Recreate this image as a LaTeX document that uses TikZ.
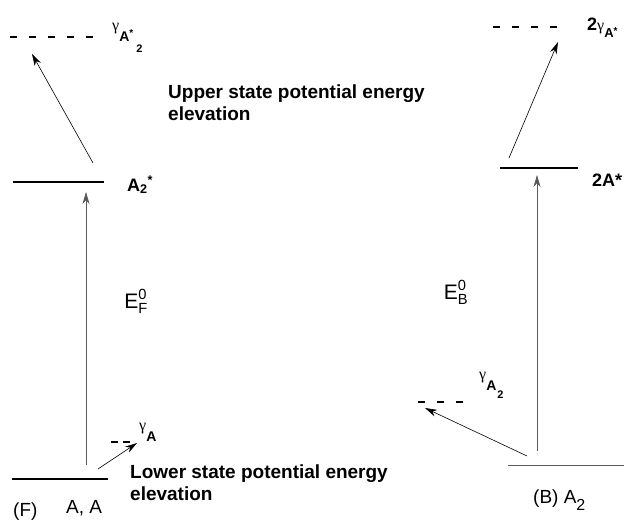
\documentclass[tikz,border=0pt]{standalone}
\usepackage{amsmath}
\usepackage{fontspec}
\setmainfont{Liberation Sans}
\newfontfamily\gfont{Liberation Serif}
\usetikzlibrary{positioning,arrows.meta}

\newcommand{\fs}[1]{\fontsize{#1}{#1}\selectfont}
\newcommand{\gam}{{\gfont\fs{16}γ}}

\tikzset{
  level/.style={line width=2pt},
  virtual/.style={line width=2pt,dash pattern=on 7pt off 12pt},
  trans/.style={-{Stealth[length=12pt,width=7pt]},line width=0.6pt},
  lbl/.style={inner sep=0pt,font=\fs{19}},
  note/.style={inner sep=0pt,align=left,font=\fontsize{19}{22}\selectfont\bfseries},
}

\begin{document}
\begin{tikzpicture}[x=1pt,y=-1pt]
  \useasboundingbox (0,0) rectangle (624,522);
  % (F) side
  \coordinate (fgl) at (12,479);  \coordinate (fgr) at (108,479);
  \coordinate (fel) at (13,182);  \coordinate (fer) at (104,182);
  \coordinate (ful) at (10,37);   \coordinate (fur) at (97,37);
  \coordinate (fll) at (111,442); \coordinate (flr) at (130,442);
  \draw[level] (fgl) -- (fgr);
  \draw[level] (fel) -- (fer);
  \draw[virtual] (ful) -- (fur);
  \draw[virtual,dash pattern=on 7pt off 5pt] (fll) -- (flr);
  \coordinate (fup0) at (86,465);  \coordinate (fup1) at (86,192);
  \coordinate (fel0) at (93,163);  \coordinate (fel1) at (32,54);
  \coordinate (flo0) at (98,469);  \coordinate (flo1) at (137,443);
  \draw[trans,gray!70!black] (fup0) -- (fup1);
  \draw[trans] (fel0) -- (fel1);
  \draw[trans] (flo0) -- (flo1);
  \node[lbl,anchor=base west] (gAs2) at (112,30)
    {\gam\raisebox{-11pt}{\fs{14}\bfseries A\raisebox{5pt}{\fs{10}*}}\hspace{3pt}\raisebox{-22pt}{\fs{11}\bfseries 2}};
  \node[lbl,anchor=west,font=\fs{18}\bfseries] (A2s) at (127,185) {$\textbf{A}_{\textbf{2}}{}^{\textbf{*}}$};
  \node[lbl,anchor=base west] (gA) at (139,430) {\gam\raisebox{-11pt}{\fs{14}\bfseries A}};
  \node[lbl,font=\fs{21}] (EF) at (136,301) {$\text{E}^{\text{0}}_{\text{F}}$};
  \node[lbl,anchor=base west] (F) at (13,516) {(F)};
  \node[lbl,anchor=base west] (AA) at (66,513) {A, A};
  \node[note,anchor=north west] (upper) at (168,85) {Upper state potential energy\\elevation};
  \node[note,anchor=north west] (lower) at (130,465) {Lower state potential energy\\elevation};
  % (B) side
  \coordinate (bgl) at (508,465); \coordinate (bgr) at (624,465);
  \coordinate (bel) at (500,168); \coordinate (ber) at (578,168);
  \coordinate (bul) at (493,27);  \coordinate (bur) at (562,27);
  \coordinate (bll) at (418,402); \coordinate (blr) at (466,402);
  \draw[line width=0.8pt,gray!70!black] (bgl) -- (bgr);
  \draw[level] (bel) -- (ber);
  \draw[virtual] (bul) -- (bur);
  \draw[virtual] (bll) -- (blr);
  \coordinate (bup0) at (537,451); \coordinate (bup1) at (537,175);
  \coordinate (bel0) at (509,158); \coordinate (bel1) at (558,42);
  \coordinate (blo0) at (527,456); \coordinate (blo1) at (425,408);
  \draw[trans,gray!70!black] (bup0) -- (bup1);
  \draw[trans] (bel0) -- (bel1);
  \draw[trans] (blo0) -- (blo1);
  \node[lbl,anchor=base west] (g2As) at (587,30)
    {{\fs{18}\bfseries 2}\gam\raisebox{-8pt}{\fs{13}\bfseries A\raisebox{3pt}{\fs{10}*}}};
  \node[lbl,anchor=west,font=\fs{18}\bfseries] (2As) at (592,180) {2A*};
  \node[lbl,anchor=base west] (gA2) at (479,379)
    {\gam\raisebox{-11pt}{\fs{14}\bfseries A}\hspace{1pt}\raisebox{-19pt}{\fs{11}\bfseries 2}};
  \node[lbl,font=\fs{21}] (EB) at (456,292) {$\text{E}^{\text{0}}_{\text{B}}$};
  \node[lbl,anchor=base west] (BA2) at (533,503) {(B) A\raisebox{-7pt}{\fs{16}2}};
\end{tikzpicture}
\end{document}
